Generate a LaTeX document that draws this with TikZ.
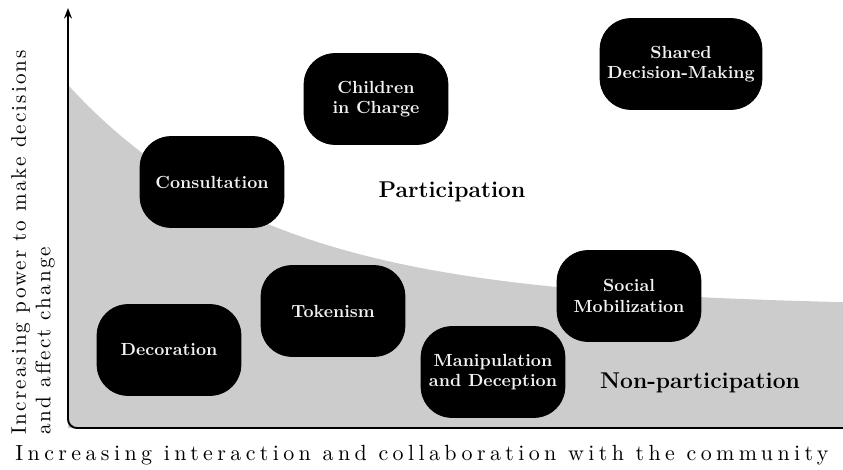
\documentclass[tikz,border=0pt]{standalone}
\usepackage{fontspec}
\usepackage{tikz}
\usetikzlibrary{arrows.meta,positioning}
\definecolor{lpShade}{RGB}{204,204,204}
\definecolor{lpInk}{RGB}{0,0,0}
\definecolor{lpPaper}{RGB}{242,242,242}
\newfontfamily\ylabelfont{lmroman10-regular.otf}[LetterSpace=10]
\newfontfamily\xlabelfont{lmroman10-regular.otf}[LetterSpace=20]
\newcommand{\ladderrung}[4][2.88cm]{%
  \node[
    fill=lpInk,
    draw=lpInk,
    rounded corners=0.62cm,
    minimum width=#1,
    minimum height=1.82cm,
    align=center,
    text=lpPaper,
    font=\fontsize{10}{11.5}\selectfont\bfseries
  ] (#2) at (#3) {#4};
}

\begin{document}
\begin{tikzpicture}[x=0.02cm,y=-0.02cm,
  zone/.style={font=\fontsize{13}{15}\selectfont\bfseries}]
  \useasboundingbox (0,0) rectangle (843,470);
  \coordinate (origin) at (68,428);
  \coordinate (ytop) at (68,8);
  \coordinate (xend) at (843,428);
  \fill[lpShade] (68,85) -- plot[domain=68:843,samples=120] (\x,{307-222*exp(-(\x-68)/203)}) -- (xend) -- (origin) -- cycle;
  \draw[line width=1.1pt,rounded corners=5pt,-{Stealth[length=6pt,width=4.5pt]}] (xend) -- (origin) -- (ytop);
  % rungs
  \ladderrung[3.24cm]{shared}{681,64}{Shared\\Decision-Making}
  \ladderrung{children}{376,99}{Children\\in Charge}
  \ladderrung{consult}{212,182}{Consultation}
  \ladderrung{social}{629,296}{Social\\Mobilization}
  \ladderrung{token}{333,311}{Tokenism}
  \ladderrung{decor}{169,350}{Decoration}
  \ladderrung{manip}{493,372}{Manipulation\\and Deception}
  \node[zone] (part) at (452,192) {Participation};
  \node[zone] (nonpart) at (700,383) {Non-participation};
  \node[rotate=90,anchor=west,align=left,font=\ylabelfont\fontsize{12}{14}\selectfont] (ylab) at (33,441) {Increasing power to make decisions\\and affect change};
  \node[font=\xlabelfont\fontsize{12.5}{14}\selectfont] (xlab) at (422,455) {Increasing interaction and collaboration with the community};
\end{tikzpicture}
\end{document}
